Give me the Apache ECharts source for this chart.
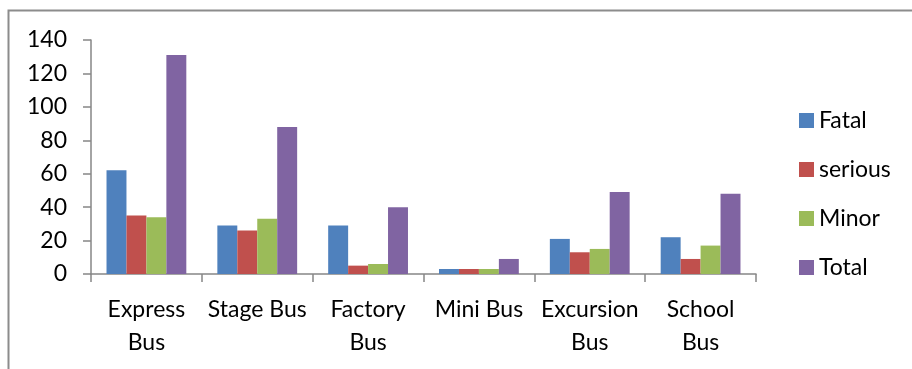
<!DOCTYPE html>
<html>
<head>
<meta charset="utf-8">
<script src="https://cdn.jsdelivr.net/npm/echarts@6/dist/echarts.min.js"></script>
<style>
  html, body { margin: 0; padding: 0; background: #fff; }
  #chart { width: 912px; height: 369px; }
</style>
</head>
<body>
<div id="chart"></div>
<script>
// Bus accident counts by type of bus and severity
const categories = ['Express\nBus', 'Stage Bus', 'Factory\nBus', 'Mini Bus', 'Excursion\nBus', 'School\nBus'];
const fatal   = [62, 29, 29, 3, 21, 22];
const serious = [35, 26, 5, 3, 13, 9];
const minor   = [34, 33, 6, 3, 15, 17];
const total   = [131, 88, 40, 9, 49, 48];
const yTicks  = { min: 0, max: 140, interval: 20 };

const FONT = 'Lato, "Open Sans", sans-serif';
const AXIS_GREY = '#868686';

const chart = echarts.init(document.getElementById('chart'), null, { renderer: 'canvas' });

function bar(name, data, color) {
  return {
    name: name,
    type: 'bar',
    data: data,
    barGap: '0%',
    barCategoryGap: '28%',
    itemStyle: { color: color },
    emphasis: { disabled: true }
  };
}

chart.setOption({
  animation: false,
  backgroundColor: '#fff',
  textStyle: { fontFamily: FONT },
  graphic: [{
    type: 'rect',
    shape: { x: 8.5, y: 10.5, width: 940, height: 400 },
    style: { fill: 'none', stroke: '#8c8c8c', lineWidth: 2 },
    silent: true
  }],
  grid: { left: 91, right: 156, top: 40, bottom: 95, containLabel: false },
  legend: {
    orient: 'vertical',
    left: 794,
    top: 104,
    padding: 5,
    itemWidth: 15,
    itemHeight: 15,
    itemGap: 26,
    icon: 'rect',
    selectedMode: false,
    textStyle: { fontFamily: FONT, fontSize: 23, lineHeight: 22, color: '#000', padding: [0, 0, 0, 0] },
    data: ['Fatal', 'serious', 'Minor', 'Total']
  },
  xAxis: {
    type: 'category',
    data: categories,
    boundaryGap: true,
    axisLine: { lineStyle: { color: AXIS_GREY, width: 1.5 } },
    axisTick: { show: true, length: 8, lineStyle: { color: AXIS_GREY, width: 1.5 } },
    axisLabel: {
      interval: 0,
      margin: 19,
      color: '#000',
      fontFamily: FONT,
      fontSize: 23,
      lineHeight: 33
    }
  },
  yAxis: {
    type: 'value',
    min: yTicks.min,
    max: yTicks.max,
    interval: yTicks.interval,
    axisLine: { show: true, lineStyle: { color: AXIS_GREY, width: 1.5 } },
    axisTick: { show: true, length: 8, lineStyle: { color: AXIS_GREY, width: 1.5 } },
    splitLine: { show: false },
    axisLabel: { margin: 24, color: '#000', fontFamily: FONT, fontSize: 23 }
  },
  series: [
    bar('Fatal', fatal, '#4F81BD'),
    bar('serious', serious, '#C0504D'),
    bar('Minor', minor, '#9BBB59'),
    bar('Total', total, '#8064A2')
  ]
});
</script>
</body>
</html>
